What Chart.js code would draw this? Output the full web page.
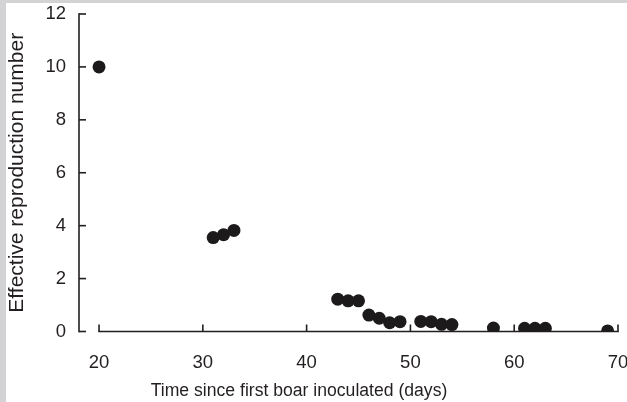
<!DOCTYPE html>
<html>
<head>
<meta charset="utf-8">
<script src="https://cdn.jsdelivr.net/npm/chart.js@4/dist/chart.umd.min.js"></script>
<style>
  html, body { margin: 0; padding: 0; background: #fff; }
  #wrap { width: 627px; height: 402px; position: relative; }
</style>
</head>
<body>
<div id="wrap"><canvas id="c" width="627" height="402"></canvas></div>
<script>
// ---- data ----
const days = [20, 31, 32, 33, 43, 44, 45, 46, 47, 48, 49, 51, 52, 53, 54, 58, 61, 62, 63, 69];
const reproNumber = [10, 3.55, 3.66, 3.82, 1.22, 1.16, 1.16, 0.62, 0.5, 0.33, 0.37, 0.38, 0.37, 0.27, 0.26, 0.13, 0.12, 0.12, 0.12, 0.02];
const xTicks = [20, 30, 40, 50, 60, 70];
const yTicks = [0, 2, 4, 6, 8, 10, 12];
const xTitle = 'Time since first boar inoculated (days)';
const yTitle = 'Effective reproduction number';

const INK = '#231f20';
const FONT = 'Liberation Sans, Arial, Helvetica, sans-serif';

const points = days.map((d, i) => ({ x: d, y: reproNumber[i] }));

function zeroPad(scale) {
  scale.paddingTop = 0; scale.paddingBottom = 0;
  scale.paddingLeft = 0; scale.paddingRight = 0;
}

const framePlugin = {
  id: 'frame',
  beforeDraw(chart) {
    const ctx = chart.ctx;
    ctx.save();
    ctx.fillStyle = '#ffffff';
    ctx.fillRect(0, 0, chart.width, chart.height);
    ctx.fillStyle = '#d3d3d5';
    ctx.fillRect(0, 0, chart.width, 3);
    ctx.fillRect(0, 0, 6, chart.height);
    ctx.restore();
  },
  beforeDatasetsDraw(chart) {
    const ctx = chart.ctx;
    const xs = chart.scales.x, ys = chart.scales.y;
    ctx.save();
    ctx.strokeStyle = INK;
    ctx.lineWidth = 1.6;
    ctx.lineCap = 'butt';
    // y axis
    const ax = chart.chartArea.left;
    const yTop = ys.getPixelForValue(yTicks[yTicks.length - 1]);
    const yBot = ys.getPixelForValue(yTicks[0]);
    ctx.beginPath();
    ctx.moveTo(ax, yTop - 0.8);
    ctx.lineTo(ax, yBot + 0.8);
    ctx.stroke();
    yTicks.forEach(v => {
      const p = ys.getPixelForValue(v);
      ctx.beginPath();
      ctx.moveTo(ax, p);
      ctx.lineTo(ax + 7, p);
      ctx.stroke();
    });
    // x axis
    const ay = ys.getPixelForValue(0);
    const xL = xs.getPixelForValue(xTicks[0]);
    const xR = xs.getPixelForValue(xTicks[xTicks.length - 1]);
    ctx.beginPath();
    ctx.moveTo(xL - 0.8, ay);
    ctx.lineTo(xR + 0.8, ay);
    ctx.stroke();
    xTicks.forEach(v => {
      const p = xs.getPixelForValue(v);
      ctx.beginPath();
      ctx.moveTo(p, ay);
      ctx.lineTo(p, ay - 7);
      ctx.stroke();
    });
    ctx.restore();
  },
  afterDraw(chart) {
    const ctx = chart.ctx;
    const ys = chart.scales.y;
    ctx.save();
    ctx.fillStyle = INK;
    ctx.font = '17.6px ' + FONT;
    ctx.textAlign = 'center';
    ctx.textBaseline = 'alphabetic';
    ctx.fillText(xTitle, 299, 396);
    const cy = (ys.getPixelForValue(0) + ys.getPixelForValue(12)) / 2;
    ctx.font = '21px ' + FONT;
    ctx.translate(23, cy);
    ctx.rotate(-Math.PI / 2);
    ctx.fillText(yTitle, 0, 0);
    ctx.restore();
  }
};

new Chart(document.getElementById('c'), {
  type: 'scatter',
  data: {
    datasets: [{
      data: points,
      backgroundColor: '#1c1a1b',
      borderWidth: 0,
      pointRadius: 6.5,
      pointHoverRadius: 6.5
    }]
  },
  options: {
    responsive: false,
    animation: false,
    events: [],
    layout: { padding: { left: 0, top: 14, right: 9, bottom: 0 } },
    plugins: { legend: { display: false }, tooltip: { enabled: false } },
    scales: {
      x: {
        type: 'linear',
        min: 18.07,
        max: 70,
        grid: { display: false, drawTicks: false },
        border: { display: false },
        afterBuildTicks(scale) { scale.ticks = xTicks.map(v => ({ value: v })); },
        afterFit(scale) { scale.height = 70.5; zeroPad(scale); },
        ticks: { color: INK, font: { family: FONT, size: 18.5 }, padding: 20, maxRotation: 0 }
      },
      y: {
        type: 'linear',
        min: 0,
        max: 12,
        grid: { display: false, drawTicks: false },
        border: { display: false },
        afterBuildTicks(scale) { scale.ticks = yTicks.map(v => ({ value: v })); },
        afterFit(scale) { scale.width = 79; zeroPad(scale); },
        ticks: { color: INK, font: { family: FONT, size: 18.5 }, padding: 13 }
      }
    }
  },
  plugins: [framePlugin]
});
</script>
</body>
</html>
